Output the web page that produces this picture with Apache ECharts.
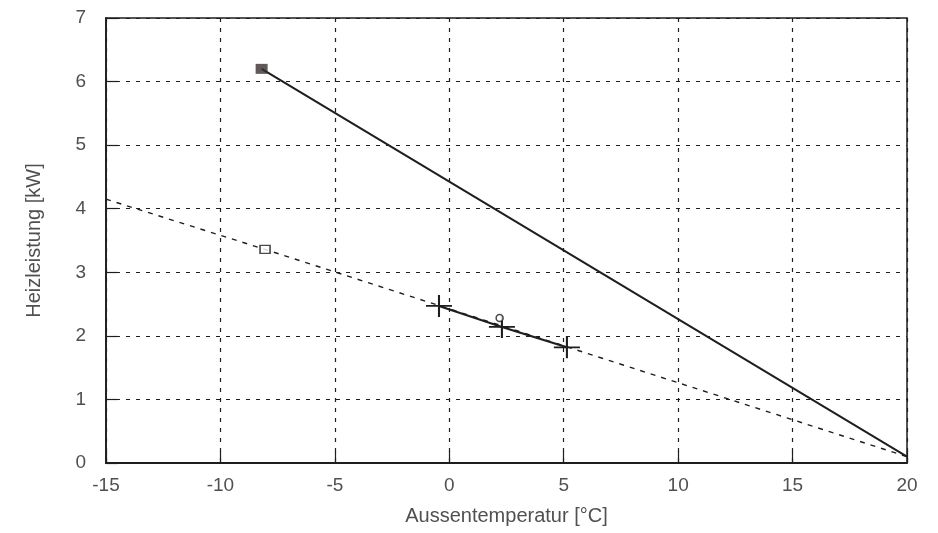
<!DOCTYPE html>
<html>
<head>
<meta charset="utf-8">
<script src="https://cdn.jsdelivr.net/npm/echarts@6/dist/echarts.min.js"></script>
<style>
  html, body { margin: 0; padding: 0; background: #fff; }
  #chart { width: 938px; height: 533px; }
</style>
</head>
<body>
<div id="chart"></div>
<script>
// Aussentemperatur [°C] / Heizleistung [kW]
const xTicks = [-15, -10, -5, 0, 5, 10, 15, 20]
const yTicks = [0, 1, 2, 3, 4, 5, 6, 7]

// solid design line (filled square at the start)
const designLine = [[-8.2, 6.2], [20, 0.1]]
const filledSquare = [[-8.2, 6.2]]
// dash-dotted line (open square)
const dashLine = [[-15, 4.15], [-8.05, 3.36], [20, 0.1]]
const openSquare = [[-8.05, 3.36]]
// measured points joined by short solid line
const measured = [[-0.45, 2.47], [2.3, 2.14], [5.14, 1.82]]
const circlePoint = [[2.2, 2.28]]

const ink = "#1e1e1e"
const textCol = "#505050"
const font = "Liberation Sans"
const plus = "path://M4.6,0h0.8v10h-0.8zM0,4.6h10v0.8h-10z"

const chart = echarts.init(document.getElementById("chart"))

const option = {
  animation: false,
  backgroundColor: "#fff",
  grid: {
    left: 106,
    right: 31,
    top: 18,
    bottom: 70,
    outerBoundsMode: "none",
    show: true,
    borderColor: ink,
    borderWidth: 1.5,
  },
  xAxis: {
    type: "value",
    min: -15,
    max: 20,
    interval: 5,
    name: "Aussentemperatur [°C]",
    nameLocation: "middle",
    nameGap: 43,
    nameTextStyle: { color: textCol, fontSize: 20, fontFamily: font },
    axisLine: { show: true, onZero: false, lineStyle: { color: ink, width: 1.8 } },
    axisTick: { show: true, inside: true, length: 12, lineStyle: { color: ink, width: 1.2 } },
    axisLabel: {
      color: textCol,
      fontSize: 19,
      fontFamily: font,
      margin: 13,
      formatter: (v) => (xTicks.includes(v) ? String(v) : ""),
    },
    splitLine: { show: true, lineStyle: { color: ink, width: 1.2, type: [4, 6] } },
  },
  yAxis: {
    type: "value",
    min: 0,
    max: 7,
    interval: 1,
    name: "Heizleistung [kW]",
    nameLocation: "middle",
    nameGap: 62,
    nameRotate: 90,
    nameTextStyle: { color: textCol, fontSize: 20, fontFamily: font },
    axisLine: { show: true, onZero: false, lineStyle: { color: ink, width: 1.8 } },
    axisTick: { show: true, inside: true, length: 12, lineStyle: { color: ink, width: 1.2 } },
    axisLabel: {
      color: textCol,
      fontSize: 19,
      fontFamily: font,
      margin: 20,
      formatter: (v) => (yTicks.includes(v) ? String(v) : ""),
    },
    splitLine: { show: true, lineStyle: { color: ink, width: 1.2, type: [4, 6] } },
  },
  series: [
    {
      type: "line",
      data: designLine,
      showSymbol: false,
      symbol: "none",
      lineStyle: { color: ink, width: 2 },
      z: 5,
    },
    {
      type: "scatter",
      data: filledSquare,
      symbol: "rect",
      symbolSize: [12, 10],
      itemStyle: { color: "#3a3030" },
      z: 6,
    },
    {
      type: "line",
      data: dashLine,
      showSymbol: false,
      symbol: "none",
      lineStyle: { color: ink, width: 1.4, type: [5, 6] },
      z: 4,
    },
    {
      type: "scatter",
      data: openSquare,
      symbol: "rect",
      symbolSize: [10, 8],
      itemStyle: { color: "#fff", borderColor: ink, borderWidth: 1.5 },
      z: 6,
    },
    {
      type: "line",
      data: measured,
      showSymbol: true,
      symbol: plus,
      symbolSize: [26, 22],
      lineStyle: { color: ink, width: 2 },
      itemStyle: { color: ink },
      z: 6,
    },
    {
      type: "scatter",
      data: circlePoint,
      symbol: "circle",
      symbolSize: 7,
      itemStyle: { color: "#fff", borderColor: ink, borderWidth: 1.5 },
      z: 7,
    },
  ],
}

chart.setOption(option)
</script>
</body>
</html>
